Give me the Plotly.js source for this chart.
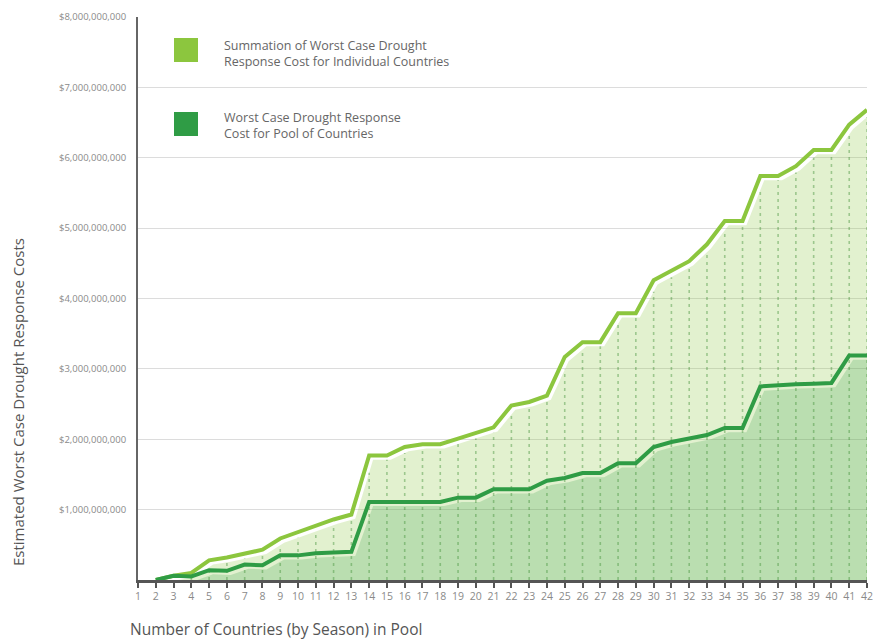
<!DOCTYPE html>
<html>
<head>
<meta charset="utf-8">
<script src="https://cdn.plot.ly/plotly-3.0.1.min.js"></script>
<style>html,body{margin:0;padding:0;background:#fff;}#chart{width:873px;height:639px;}</style>
</head>
<body>
<div id="chart"></div>
<script>
// Number of countries (by season) in pool
const countries = [2,3,4,5,6,7,8,9,10,11,12,13,14,15,16,17,18,19,20,21,22,23,24,25,26,27,28,29,30,31,32,33,34,35,36,37,38,39,40,41,42];
// Summation of worst case drought response cost for individual countries (billions USD)
const individualSumB = [0,0.06,0.10,0.28,0.32,0.38,0.43,0.59,0.68,0.78,0.86,0.93,1.77,1.77,1.89,1.93,1.93,2.01,2.09,2.17,2.48,2.53,2.62,3.17,3.38,3.38,3.79,3.79,4.26,4.39,4.53,4.77,5.10,5.10,5.74,5.74,5.88,6.11,6.11,6.47,6.68];
// Worst case drought response cost for pool of countries (billions USD)
const poolB = [0,0.06,0.05,0.14,0.13,0.22,0.21,0.35,0.35,0.38,0.39,0.40,1.11,1.11,1.11,1.11,1.11,1.17,1.17,1.29,1.29,1.29,1.41,1.45,1.52,1.52,1.66,1.66,1.89,1.96,2.01,2.06,2.16,2.16,2.75,2.77,2.78,2.79,2.80,3.19,3.19];
const xTicks = [1,2,3,4,5,6,7,8,9,10,11,12,13,14,15,16,17,18,19,20,21,22,23,24,25,26,27,28,29,30,31,32,33,34,35,36,37,38,39,40,41,42];
const yTicks = [0,1e9,2e9,3e9,4e9,5e9,6e9,7e9,8e9];
const yTickText = ['','$1,000,000,000','$2,000,000,000','$3,000,000,000','$4,000,000,000','$5,000,000,000','$6,000,000,000','$7,000,000,000','$8,000,000,000'];

const B = 1e9;
const lightCol = '#8cc63e';
const darkCol = '#2f9c45';
const shiftX = 0.22, shiftY = 0.06;

const indiv = individualSumB.map(v => v * B);
const pool = poolB.map(v => v * B);
const fillX = countries.map(n => n + shiftX);
const indivFill = individualSumB.map(v => (v - shiftY) * B);
const poolFill = poolB.map(v => (v - shiftY) * B);

// dotted verticals up to the light fill top
const dx = [], dy = [];
countries.forEach((n, i) => {
  const prev = i > 0 ? individualSumB[i-1] : individualSumB[0];
  const top = prev * shiftX + individualSumB[i] * (1 - shiftX) - shiftY;
  if (top > 0) { dx.push(n, n, null); dy.push(0, top * B, null); }
});

const traces = [
  {x: fillX, y: indivFill, type: 'scatter', mode: 'lines', fill: 'tozeroy',
   fillcolor: 'rgba(141,198,63,0.25)', line: {width: 0}, hoverinfo: 'skip', showlegend: false},
  {x: fillX, y: poolFill, type: 'scatter', mode: 'lines', fill: 'tozeroy',
   fillcolor: 'rgba(46,155,68,0.22)', line: {width: 0}, hoverinfo: 'skip', showlegend: false},
  {x: dx, y: dy, type: 'scatter', mode: 'lines', line: {color: 'rgba(60,140,50,0.42)', width: 1.6, dash: '3px,4px'},
   hoverinfo: 'skip', showlegend: false},
  {x: countries, y: indiv, type: 'scatter', mode: 'lines', name: 'Summation of Worst Case Drought Response Cost for Individual Countries',
   line: {color: lightCol, width: 4}, showlegend: false},
  {x: countries, y: pool, type: 'scatter', mode: 'lines', name: 'Worst Case Drought Response Cost for Pool of Countries',
   line: {color: darkCol, width: 4}, showlegend: false}
];

const W = 729, H = 563; // plot area size
const px = v => (v - 138) / W;
const py = v => (580 - v) / H;

const layout = {
  width: 873, height: 639,
  margin: {l: 138, r: 6, t: 17, b: 59},
  paper_bgcolor: '#fff', plot_bgcolor: '#fff',
  font: {family: 'Open Sans, sans-serif', color: '#777'},
  xaxis: {
    range: [1, 42], tickvals: xTicks, ticktext: xTicks.map(String),
    showgrid: false, zeroline: false, showline: true, linecolor: '#555', linewidth: 2.5,
    ticks: 'outside', ticklen: 5, tickwidth: 2, tickcolor: '#555', ticklabeloverflow: 'allow',
    tickfont: {size: 10.5, color: '#8a8a8a'}, fixedrange: true
  },
  yaxis: {
    range: [0, 8e9], tickvals: yTicks, ticktext: yTickText,
    showgrid: true, gridcolor: '#dcdcdc', gridwidth: 1.2, zeroline: false,
    showline: true, linecolor: '#666', linewidth: 2, ticks: '',
    tickfont: {size: 9.5, color: '#8a8a8a'}, ticklabelstandoff: 8, fixedrange: true
  },
  shapes: [
    {type: 'rect', xref: 'paper', yref: 'paper', x0: px(174), x1: px(198), y0: py(62), y1: py(38),
     fillcolor: lightCol, line: {width: 0}},
    {type: 'rect', xref: 'paper', yref: 'paper', x0: px(174), x1: px(198), y0: py(136), y1: py(112),
     fillcolor: darkCol, line: {width: 0}}
  ],
  annotations: [
    {xref: 'paper', yref: 'paper', x: px(222), y: py(53), xanchor: 'left', yanchor: 'middle', align: 'left',
     showarrow: false, text: 'Summation of Worst Case Drought<br>Response Cost for Individual Countries',
     font: {size: 12.5, color: '#666'}},
    {xref: 'paper', yref: 'paper', x: px(222), y: py(125), xanchor: 'left', yanchor: 'middle', align: 'left',
     showarrow: false, text: 'Worst Case Drought Response<br>Cost for Pool of Countries',
     font: {size: 12.5, color: '#666'}},
    {xref: 'paper', yref: 'paper', x: px(128), y: py(629), xanchor: 'left', yanchor: 'middle',
     showarrow: false, text: 'Number of Countries (by Season) in Pool', font: {size: 15.5, color: '#555'}},
    {xref: 'paper', yref: 'paper', x: px(18), y: py(402), xanchor: 'center', yanchor: 'middle', textangle: -90,
     showarrow: false, text: 'Estimated Worst Case Drought Response Costs', font: {size: 15, color: '#555'}}
  ]
};

Plotly.newPlot('chart', traces, layout, {displayModeBar: false, staticPlot: true});
</script>
</body>
</html>
